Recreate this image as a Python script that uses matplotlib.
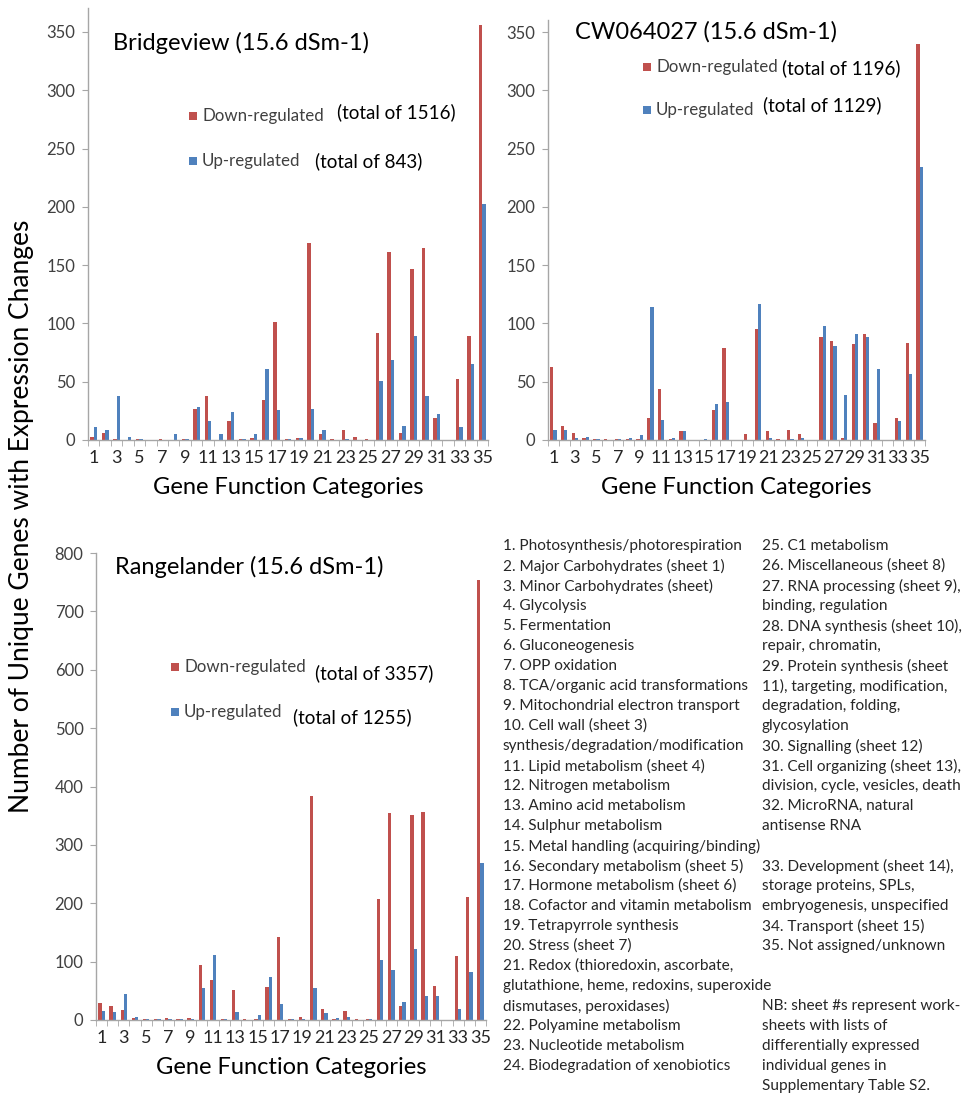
import numpy as np
import matplotlib
matplotlib.use("Agg")
from matplotlib import pyplot as plt
from matplotlib.patches import Rectangle

plt.rcParams['font.family'] = ['Lato', 'DejaVu Sans']

categories = list(range(1, 36))

# Bridgeview (15.6 dSm-1)
bridgeview_down = [3, 6, 1, 0, 1, 0, 1, 0, 1, 27, 38, 0, 16, 1, 2, 34, 101, 1, 2, 169,
                   5, 1, 9, 3, 1, 92, 161, 6, 147, 165, 19, 0, 52, 89, 356]
bridgeview_up = [11, 9, 38, 3, 1, 0, 0, 5, 1, 28, 16, 5, 24, 1, 5, 61, 26, 1, 2, 27,
                 9, 0, 1, 0, 0, 51, 69, 12, 89, 38, 22, 0, 11, 65, 202]

# CW064027 (15.6 dSm-1)
cw_down = [63, 12, 6, 2, 1, 1, 1, 1, 1, 19, 44, 1, 8, 0, 0, 26, 79, 0, 5, 95,
           8, 1, 9, 5, 0, 88, 85, 2, 82, 91, 15, 0, 19, 83, 340]
cw_up = [9, 9, 2, 3, 1, 0, 1, 2, 4, 114, 17, 2, 8, 0, 1, 31, 33, 0, 0, 117,
         2, 0, 1, 2, 0, 98, 81, 39, 91, 88, 61, 0, 16, 57, 234]

# Rangelander (15.6 dSm-1)
range_down = [29, 24, 17, 3, 1, 1, 3, 2, 3, 94, 68, 1, 51, 1, 2, 57, 143, 2, 5, 383,
              18, 2, 15, 2, 1, 207, 354, 24, 351, 357, 58, 0, 109, 211, 753]
range_up = [15, 14, 44, 5, 1, 1, 2, 2, 2, 54, 112, 1, 14, 0, 9, 74, 27, 2, 2, 54,
            12, 4, 5, 0, 2, 103, 86, 31, 122, 41, 41, 0, 18, 82, 269]

panel_titles = ["Bridgeview (15.6 dSm-1)", "CW064027 (15.6 dSm-1)", "Rangelander (15.6 dSm-1)"]
down_totals = ["(total of 1516)", "(total of 1196)", "(total of 3357)"]
up_totals = ["(total of 843)", "(total of 1129)", "(total of 1255)"]

list_left = [
    "1. Photosynthesis/photorespiration",
    "2. Major Carbohydrates (sheet 1)",
    "3. Minor Carbohydrates (sheet)",
    "4. Glycolysis",
    "5. Fermentation",
    "6. Gluconeogenesis",
    "7. OPP oxidation",
    "8. TCA/organic acid transformations",
    "9. Mitochondrial electron transport",
    "10. Cell wall (sheet 3)",
    "synthesis/degradation/modification",
    "11. Lipid metabolism (sheet 4)",
    "12. Nitrogen metabolism",
    "13. Amino acid metabolism",
    "14. Sulphur metabolism",
    "15. Metal handling (acquiring/binding)",
    "16. Secondary metabolism (sheet 5)",
    "17. Hormone metabolism (sheet 6)",
    "18. Cofactor and vitamin metabolism",
    "19. Tetrapyrrole synthesis",
    "20. Stress (sheet 7)",
    "21. Redox (thioredoxin, ascorbate,",
    "glutathione, heme, redoxins, superoxide",
    "dismutases, peroxidases)",
    "22. Polyamine metabolism",
    "23. Nucleotide metabolism",
    "24. Biodegradation of xenobiotics",
]
list_right = [
    "25. C1 metabolism",
    "26. Miscellaneous (sheet 8)",
    "27. RNA processing (sheet 9),",
    "binding, regulation",
    "28. DNA synthesis (sheet 10),",
    "repair, chromatin,",
    "29. Protein synthesis (sheet",
    "11), targeting, modification,",
    "degradation, folding,",
    "glycosylation",
    "30. Signalling (sheet 12)",
    "31. Cell organizing (sheet 13),",
    "division, cycle, vesicles, death",
    "32. MicroRNA, natural",
    "antisense RNA",
    "",
    "33. Development (sheet 14),",
    "storage proteins, SPLs,",
    "embryogenesis, unspecified",
    "34. Transport (sheet 15)",
    "35. Not assigned/unknown",
    "",
    "",
    "NB: sheet #s represent work-",
    "sheets with lists of",
    "differentially expressed",
    "individual genes in",
    "Supplementary Table S2.",
]

RED = '#C0504D'
BLUE = '#4F81BD'
AXIS_GRAY = '#A6A6A6'
TEXT = '#262626'

W, H = 964, 1095
fig = plt.figure(figsize=(W / 100, H / 100), dpi=100)


def px(x, y):
    return x / W, 1 - y / H


def make_axes(left, top, right, bottom):
    return fig.add_axes([left / W, 1 - bottom / H, (right - left) / W, (bottom - top) / H])


def draw_panel(ax, down, up, ymax, ystep):
    x = np.array(categories)
    w = 0.3
    ax.bar(x - w / 2, down, w, color=RED, linewidth=0)
    ax.bar(x + w / 2, up, w, color=BLUE, linewidth=0)
    ax.set_xlim(0.5, 35.5)
    ax.set_ylim(0, ymax)
    ax.set_yticks(np.arange(0, (ymax // ystep) * ystep + 1, ystep))
    ax.set_xticks(categories[::2])
    ax.set_xticks(np.arange(0.5, 36, 1), minor=True)
    for s in ['top', 'right']:
        ax.spines[s].set_visible(False)
    for s in ['left', 'bottom']:
        ax.spines[s].set_color(AXIS_GRAY)
        ax.spines[s].set_linewidth(1.0)
    ax.tick_params(axis='x', which='major', length=0, pad=7, labelsize=13, labelcolor=TEXT)
    ax.tick_params(axis='x', which='minor', length=4, color=AXIS_GRAY, direction='out')
    ax.tick_params(axis='y', length=4, color=AXIS_GRAY, pad=5, labelsize=12, labelcolor='#404040')
    ax.set_xlabel("Gene Function Categories", fontsize=17, color='black', labelpad=8)


def draw_legend(sq_x, y_down, y_up, down_total, up_total, tot_dx_down, tot_dx_up, tot_dy_down, tot_dy_up):
    for y, col, label, tot, dx, dy in [(y_down, RED, "Down-regulated", down_total, tot_dx_down, tot_dy_down),
                                      (y_up, BLUE, "Up-regulated", up_total, tot_dx_up, tot_dy_up)]:
        fx, fy = px(sq_x, y + 4)
        fig.add_artist(Rectangle((fx, fy), 8 / W, 8 / H, transform=fig.transFigure, color=col, lw=0))
        fig.text(*px(sq_x + 13, y), label, fontsize=12.2, color='#404040', va='center', ha='left')
        fig.text(*px(sq_x + dx, y + dy), tot, fontsize=13.5, color='black', va='center', ha='left')


ax1 = make_axes(88, 8, 488, 440)
draw_panel(ax1, bridgeview_down, bridgeview_up, 370.5, 50)
ax2 = make_axes(548, 20, 925, 440)
draw_panel(ax2, cw_down, cw_up, 360.3, 50)
ax3 = make_axes(96, 553, 486, 1020)
draw_panel(ax3, range_down, range_up, 800, 100)

fig.text(*px(113, 43), panel_titles[0], fontsize=17, va='center', ha='left')
fig.text(*px(575, 32), panel_titles[1], fontsize=17, va='center', ha='left')
fig.text(*px(115, 567), panel_titles[2], fontsize=17, va='center', ha='left')

draw_legend(189, 116, 161, down_totals[0], up_totals[0], 148, 126, -4, 0)
draw_legend(643, 67, 110, down_totals[1], up_totals[1], 139, 120, 1, -5)
draw_legend(171, 667, 712, down_totals[2], up_totals[2], 144, 122, 6, 5)

fig.text(*px(22, 516), "Number of Unique Genes with Expression Changes", fontsize=19,
         rotation=90, va='center', ha='center')

for i, line in enumerate(list_left):
    fig.text(*px(503, 546 + 20 * i), line, fontsize=11.1, color=TEXT, va='center', ha='left')
for i, line in enumerate(list_right):
    fig.text(*px(762, 546 + 20 * i), line, fontsize=11.1, color=TEXT, va='center', ha='left')

fig.savefig("out.png", dpi=100, facecolor='white')
